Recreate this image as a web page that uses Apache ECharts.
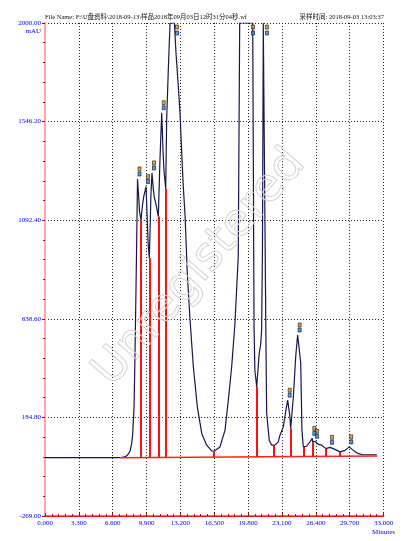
<!DOCTYPE html>
<html>
<head>
<meta charset="utf-8">
<title>chromatogram</title>
<script src="https://cdn.jsdelivr.net/npm/echarts@6.0.0/dist/echarts.min.js"></script>
<style>
  html, body { margin: 0; padding: 0; background: #fff; }
  #chart { width: 407px; height: 541px; }
</style>
</head>
<body>
<div id="chart"></div>
<script>
// detector trace, minutes / mAU (flat top = detector saturated at 2000)
var traceTime = [0, 7.12, 7.5, 7.8, 8.05, 8.29, 8.45, 8.55, 8.68, 8.77, 8.87, 8.94, 9.02, 9.12, 9.22, 9.36,
  9.5, 9.62, 9.85, 9.95, 10.05, 10.17, 10.25, 10.32, 10.43, 10.55, 10.65, 10.82, 11.05, 11.2, 11.38, 11.5,
  11.6, 11.77, 11.86, 12.02, 12.19, 12.62, 12.77, 13.0, 13.16, 13.33, 13.48, 13.65, 13.87, 14.14, 14.46,
  14.85, 15.28, 15.76, 16.25, 16.48, 17.06, 17.55, 17.87, 18.2, 18.52, 18.84, 18.98, 20.25, 20.38, 20.46,
  20.64, 20.88, 21.02, 21.12, 21.2, 21.28, 21.46, 21.53, 21.61, 21.86, 22.1, 22.42, 22.74, 22.91, 23.23,
  23.49, 23.66, 23.88, 23.95, 24.21, 24.44, 24.63, 24.93, 25.05, 25.18, 25.5, 25.83, 26.06, 26.1, 26.32,
  26.64, 26.97, 27.39, 27.78, 28.1, 28.76, 29.25, 29.66, 30.06, 30.54, 31.03, 32.0, 32.34]
var traceSignal = [0, 0, 1, 3, 12, 30, 65, 108, 230, 464, 771, 1001, 1282, 1210, 1130, 1093,
  1160, 1200, 1247, 1120, 990, 917, 1060, 1200, 1310, 1240, 1200, 1165, 1109, 1360, 1587, 1420,
  1320, 1236, 1554, 1784, 2000, 2000, 1862, 1708, 1587, 1402, 1247, 1120, 849, 633, 418,
  233, 111, 57, 31, 29, 49, 126, 264, 418, 618, 925, 2000, 2000, 600, 402,
  325, 479, 518, 587, 955, 2000, 2000, 587, 204, 79, 57, 57, 72, 103, 141,
  218, 264, 187, 134, 279, 464, 564, 435, 126, 49, 52, 72, 88, 72, 75,
  61, 57, 41, 47, 41, 26, 33, 49, 33, 18, 13, 13, 13]

// integration baseline
var baseTime = [7.3, 32.4]
var baseSignal = [-1, 7]

// drop lines between peaks
var cutTime = [9.36, 10.17, 11.05, 11.77, 16.48, 20.64, 22.3, 23.95, 25.18, 26.1, 27.39, 28.76]
var cutSignal = [1093, 917, 1109, 1236, 29, 325, 57, 134, 49, 72, 41, 26]

// peak apex tags
var peakTime = [9.02, 9.85, 10.43, 11.38, 12.77, 20.18, 21.54, 23.66, 24.63, 26.06, 26.32, 27.78, 29.66]
var peakSignal = [1282, 1247, 1310, 1587, 2000, 2000, 2000, 264, 564, 88, 75, 47, 49]

// axes
var xMax = 33
var xStep = 3.3
var yMin = -269
var yMax = 2000
var yStep = 453.8

var chart = echarts.init(document.getElementById('chart'))

// value axis is drawn from 0 so ticks land on -269, 184.8, ...
function shift(v) {
  return v - yMin
}

function baseAt(t) {
  var k = (t - baseTime[0]) / (baseTime[1] - baseTime[0])
  return baseSignal[0] + k * (baseSignal[1] - baseSignal[0])
}

var tracePts = traceTime.map(function(t, i) { return [t, shift(traceSignal[i])] })
var basePts = baseTime.map(function(t, i) { return [t, shift(baseSignal[i])] })
var cutLines = cutTime.map(function(t, i) {
  return [{ coord: [t, shift(baseAt(t))] }, { coord: [t, shift(cutSignal[i])] }]
})

function tagPts(row) {
  return peakTime.map(function(t, i) {
    var full = peakSignal[i] >= yMax
    return {
      value: [t, shift(peakSignal[i])],
      symbolOffset: full ? [1, row === 0 ? 4 : 10] : [2, row === 0 ? -10 : -5]
    }
  })
}

var serifFont = '"Liberation Serif", "Noto Sans CJK SC", serif'
var blue = '#0000ff'

chart.setOption({
  animation: false,
  backgroundColor: '#fff',
  grid: {
    left: 45,
    right: 23.5,
    top: 23,
    bottom: 25
  },
  xAxis: [{
    type: 'value',
    min: 0,
    max: xMax,
    interval: xStep,
    axisLine: { lineStyle: { color: '#ff6a6a', width: 2 } },
    axisTick: { inside: true, length: 3, lineStyle: { color: '#c00000' } },
    minorTick: { show: true, splitNumber: 5, length: 2, lineStyle: { color: '#d00000' } },
    axisLabel: {
      color: blue,
      fontFamily: serifFont,
      fontSize: 7,
      margin: 4,
      formatter: function(v) { return v.toFixed(3) }
    },
    splitLine: { show: true, lineStyle: { color: '#222', type: [1, 2], width: 1 } }
  }, {
    type: 'value',
    position: 'top',
    min: 0,
    max: xMax,
    axisLine: { show: true, lineStyle: { color: '#e81818', width: 1 } },
    axisTick: { show: false },
    axisLabel: { show: false },
    splitLine: { show: false }
  }],
  yAxis: [{
    type: 'value',
    min: 0,
    max: yMax - yMin,
    interval: yStep,
    axisLine: { show: true, lineStyle: { color: '#ff6a6a', width: 2 } },
    axisTick: { show: true, length: 3, lineStyle: { color: '#c00000' } },
    minorTick: { show: true, splitNumber: 5, length: 2, lineStyle: { color: '#d00000' } },
    axisLabel: {
      color: blue,
      fontFamily: serifFont,
      fontSize: 7,
      margin: 4,
      formatter: function(v) { return (v + yMin).toFixed(2) }
    },
    splitLine: { show: true, lineStyle: { color: '#222', type: [1, 2], width: 1 } }
  }, {
    type: 'value',
    position: 'right',
    min: 0,
    max: yMax - yMin,
    axisLine: { show: true, lineStyle: { color: '#ffa8a8', width: 2 } },
    axisTick: { show: false },
    axisLabel: { show: false },
    splitLine: { show: false }
  }],
  series: [{
    name: 'trace',
    type: 'line',
    data: tracePts,
    showSymbol: false,
    z: 3,
    lineStyle: { color: '#16164e', width: 1.2 }
  },
  {
    name: 'baseline',
    type: 'line',
    data: basePts,
    showSymbol: false,
    z: 4,
    lineStyle: { color: '#ff2020', width: 1.5 },
    markLine: {
      silent: true,
      symbol: ['none', 'none'],
      label: { show: false },
      lineStyle: { color: '#ff1010', width: 2, type: 'solid' },
      data: cutLines
    }
  },
  {
    name: 'tagTop',
    type: 'scatter',
    data: tagPts(0),
    symbol: 'rect',
    symbolSize: [3, 4],
    z: 5,
    itemStyle: { color: '#d8902a', borderColor: '#2a1a08', borderWidth: 0.8 }
  },
  {
    name: 'tagBottom',
    type: 'scatter',
    data: tagPts(1),
    symbol: 'rect',
    symbolSize: [3, 4],
    z: 5,
    itemStyle: { color: '#2f86d8', borderColor: '#0a1830', borderWidth: 0.8 }
  }],
  graphic: [{
    type: 'text',
    left: 45,
    top: 14,
    style: {
      text: 'File Name: F:\\U盘资料\\2018-09-13\\样品2018年09月03日12时31分04秒.wf',
      font: '6.5px "Liberation Serif", "Noto Sans CJK SC", serif',
      fill: '#111'
    }
  },
  {
    type: 'text',
    right: 23,
    top: 14,
    style: {
      text: '采样时间: 2018-09-03 13:03:37',
      font: '6.5px "Liberation Serif", "Noto Sans CJK SC", serif',
      fill: '#111'
    }
  },
  {
    type: 'text',
    right: 366,
    top: 28,
    style: { text: 'mAU', font: '7px "Liberation Serif", serif', fill: blue }
  },
  {
    type: 'text',
    right: 12,
    top: 529,
    style: { text: 'Minutes', font: '7px "Liberation Serif", serif', fill: blue }
  },
  {
    type: 'text',
    x: 200,
    y: 268,
    rotation: 49 * Math.PI / 180,
    z: 100,
    silent: true,
    style: {
      text: 'Unregistered',
      font: '46px "DejaVu Sans", sans-serif',
      align: 'center',
      verticalAlign: 'middle',
      fill: 'rgba(255,255,255,0)',
      stroke: '#d4d4d4',
      lineWidth: 1
    }
  }]
})
</script>
</body>
</html>
